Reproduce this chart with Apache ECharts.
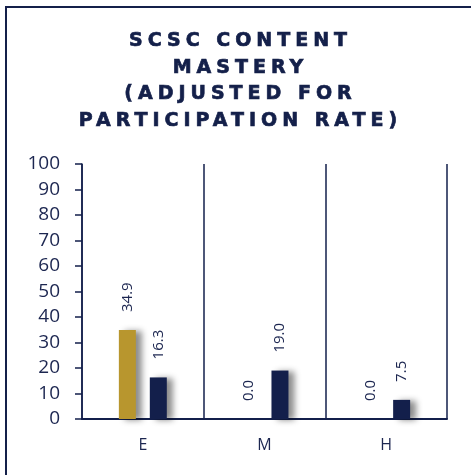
<!DOCTYPE html>
<html>
<head>
<meta charset="utf-8">
<script src="https://cdn.jsdelivr.net/npm/echarts@6/dist/echarts.min.js"></script>
<style>
  html, body { margin: 0; padding: 0; background: #fff; }
  #wrap { position: relative; width: 471px; height: 475px; overflow: hidden; }
  #frame { position: absolute; left: 5px; top: 6px; right: -4px; bottom: -4px;
           border-left: 2px solid #14204a; border-top: 2px solid #14204a; }
  #title { position: absolute; left: 10px; right: 0; top: 26px; text-align: center;
           font-family: "DejaVu Sans", Verdana, sans-serif; font-weight: bold;
           font-size: 19px; line-height: 26.7px; letter-spacing: 5px; color: #14204a;
           -webkit-text-stroke: 0.7px #14204a; }
  #chart { position: absolute; left: 0; top: 0; width: 471px; height: 475px; }
</style>
</head>
<body>
<div id="wrap">
  <div id="frame"></div>
  <div id="chart"></div>
  <div id="title">SCSC CONTENT<br>MASTERY<br>(ADJUSTED FOR<br>PARTICIPATION RATE)</div>
</div>
<script>
// School levels along the x axis
const levels = ['E', 'M', 'H'];
// Adjusted content-mastery percentages, two series per level
const seriesGold = [34.9, 0.0, 0.0];
const seriesNavy = [16.3, 19.0, 7.5];

const NAVY = '#131f4b';
const GOLD = '#b8962e';

const chart = echarts.init(document.getElementById('chart'), null, { renderer: 'canvas' });

function barSeries(data, color) {
  return {
    type: 'bar',
    data: data,
    barWidth: 17,
    barGap: '82%',
    itemStyle: {
      color: color,
      shadowColor: 'rgba(0,0,0,0.45)',
      shadowBlur: 6,
      shadowOffsetX: 6,
      shadowOffsetY: 1
    },
    label: {
      show: true,
      position: 'top',
      distance: 18,
      rotate: 90,
      align: 'left',
      verticalAlign: 'middle',
      fontFamily: 'Open Sans, sans-serif',
      fontSize: 15,
      color: '#1c2650',
      formatter: p => Number(p.value).toFixed(1)
    }
  };
}

chart.setOption({
  animation: false,
  grid: { left: 82, right: 24, top: 164, bottom: 56 },
  xAxis: {
    type: 'category',
    data: levels,
    axisLine: { show: true, lineStyle: { color: NAVY, width: 2 } },
    axisTick: { show: false },
    splitLine: { show: true, lineStyle: { color: NAVY, width: 1.5 } },
    axisLabel: { color: '#1c2650', fontFamily: 'Open Sans, sans-serif', fontSize: 16, margin: 18 }
  },
  yAxis: {
    type: 'value',
    min: 0,
    max: 100,
    interval: 10,
    axisLine: { show: true, lineStyle: { color: NAVY, width: 1.5 } },
    axisTick: { show: true, inside: false, length: 7, lineStyle: { color: NAVY, width: 1.5 } },
    splitLine: { show: false },
    axisLabel: { color: '#1c2650', fontFamily: 'Open Sans, sans-serif', fontSize: 19, margin: 22 }
  },
  series: [barSeries(seriesGold, GOLD), barSeries(seriesNavy, NAVY)]
});
</script>
</body>
</html>
